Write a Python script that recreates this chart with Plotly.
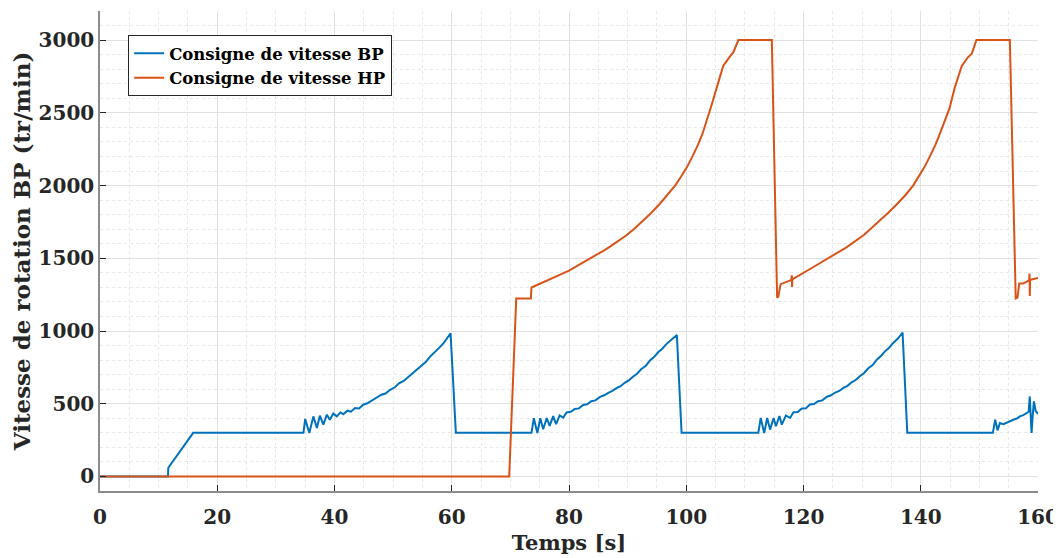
import plotly.graph_objects as go

# Consigne de vitesse BP (temps en s, vitesse en tr/min)
t_bp = [0, 11.6, 11.65, 15.9, 34.7,
        35.0, 35.7, 36.4, 37.0, 37.5, 38.1, 38.7, 39.2, 39.8, 40.4, 41.0, 41.5, 42.2, 42.8,
        43.5, 44.2, 44.9, 45.6, 46.4, 47.2, 48.0, 48.7, 49.5, 50.3, 51.0, 51.8, 52.6, 53.4,
        54.1, 54.9, 55.6, 56.3, 57.0, 57.8, 58.6, 59.2, 59.8, 60.7,
        73.6, 74.0, 74.6, 75.1, 75.6, 76.2, 76.7, 77.3, 77.8, 78.4, 79.0, 79.6, 80.3, 81.0,
        81.7, 82.4, 83.1, 83.8, 84.5, 85.3, 86.0, 86.7, 87.4, 88.1, 88.8, 89.5, 90.2, 90.9,
        91.6, 92.3, 93.1, 93.8, 94.5, 95.2, 95.9, 96.6, 97.4, 98.4, 99.2,
        112.3, 112.7, 113.3, 113.8, 114.3, 114.9, 115.3, 115.9, 116.3, 117.0, 117.7, 118.3,
        119.0, 119.7, 120.4, 121.1, 121.8, 122.5, 123.2, 124.0, 124.7, 125.4, 126.1, 126.8,
        127.5, 128.2, 128.9, 129.6, 130.3, 131.0, 131.8, 132.5, 133.2, 133.9, 134.6, 135.3,
        136.1, 136.9, 137.7,
        152.3, 152.7, 153.1, 153.5, 154.1, 154.7, 155.2, 155.8, 156.4, 156.9, 157.5, 158.0,
        158.4, 158.6, 158.9, 159.1, 159.3, 159.6, 159.8, 160.0]
v_bp = [0, 0, 60, 300, 300,
        395, 299, 413, 333, 418, 356, 425, 390, 432, 413, 440, 428, 452, 445,
        470, 468, 493, 503, 522, 538, 562, 570, 596, 613, 640, 657, 685, 710,
        733, 764, 788, 824, 848, 882, 916, 946, 984, 300,
        300, 400, 299, 400, 325, 402, 348, 415, 360, 420, 405, 440, 445, 464,
        468, 492, 496, 517, 523, 547, 558, 575, 588, 607, 620, 644, 660, 686,
        706, 737, 761, 797, 821, 854, 878, 910, 938, 973, 300,
        300, 402, 299, 402, 322, 402, 345, 416, 356, 420, 402, 441,
        443, 467, 468, 495, 498, 517, 523, 548, 558, 577, 588, 609,
        623, 647, 663, 689, 710, 742, 766, 803, 828, 860, 885, 918,
        948, 989, 300,
        300, 390, 317, 367, 360, 372, 380, 390, 398, 413, 422, 436,
        445, 550, 299, 420, 516, 450, 436, 431]

# Consigne de vitesse HP
t_hp = [0, 69.8, 71.0, 73.5, 73.6, 76.0, 78.5, 80.0, 82.0, 84.1, 86.0, 87.0, 89.8, 91.2,
        92.7, 94.1, 95.5, 96.8, 98.1, 99.1, 100.1, 101.0, 102.0, 102.8, 103.5, 104.3,
        105.2, 105.8, 106.3, 107.5, 108.0, 108.9, 114.6,
        115.5, 115.7, 116.1, 117.9, 118.0, 118.05, 118.1, 121.7, 124.5, 127.4, 130.3,
        133.1, 134.5, 136.0, 137.4, 138.7, 139.6, 140.6, 141.5, 142.5, 143.3, 144.1,
        144.9, 145.8, 146.4, 147.0, 148.0, 148.7,
        149.5, 155.2, 156.2, 156.5, 156.8, 157.5, 158.0, 158.5, 158.55, 158.6, 158.65,
        158.9, 160.0]
v_hp = [0, 0, 1224, 1224, 1299, 1345, 1388, 1415, 1460, 1509, 1555, 1580, 1658, 1705,
        1760, 1815, 1875, 1935, 2000, 2060, 2125, 2195, 2280, 2360, 2445, 2550,
        2673, 2750, 2822, 2890, 2913, 3000, 3000,
        1228, 1235, 1322, 1350, 1383, 1303, 1355, 1440, 1505, 1577, 1660,
        1760, 1815, 1875, 1935, 2000, 2060, 2125, 2195, 2280, 2360, 2445,
        2530, 2673, 2750, 2822, 2880, 2906,
        3000, 3000, 1224, 1230, 1327, 1327, 1338, 1350, 1395, 1240, 1350,
        1354, 1365]

FONT = "DejaVu Serif"
TXT = "#262626"

fig = go.Figure()
fig.add_trace(go.Scatter(x=t_bp, y=v_bp, mode="lines", name="Consigne de vitesse BP",
                         line=dict(color="#0072BD", width=2)))
fig.add_trace(go.Scatter(x=t_hp, y=v_hp, mode="lines", name="Consigne de vitesse HP",
                         line=dict(color="#D95319", width=2)))

# la page a une marge de 8 px autour de la figure
fig.update_layout(
    width=1053, height=550,
    margin=dict(l=92, r=23, t=3, b=67),
    paper_bgcolor="white", plot_bgcolor="white",
    font=dict(family=FONT, color=TXT, weight="bold"),
    legend=dict(x=0.03, y=0.95, xanchor="left", yanchor="top",
                bgcolor="white", bordercolor=TXT, borderwidth=1,
                font=dict(size=16.5, family=FONT, color="black", weight="bold"),
                itemwidth=30, tracegroupgap=0),
    showlegend=True,
)

axis_common = dict(
    showline=True, linecolor="#8c8c8c", linewidth=1.5, mirror=False,
    ticks="inside", ticklen=6, tickcolor=TXT,
    showgrid=True, gridcolor="#e1e1e1", gridwidth=1, zeroline=False,
    tickfont=dict(size=20, family=FONT, color=TXT, weight="bold"),
    ticklabeloverflow="allow",
)

fig.update_xaxes(axis_common, range=[0, 160], dtick=20, ticklabelstandoff=7,
                 minor=dict(dtick=5, showgrid=True, gridcolor="#e8e8e8", griddash="dot"),
                 title=dict(text="Temps [s]", font=dict(size=21, family=FONT, color=TXT, weight="bold"),
                            standoff=8))
fig.update_yaxes(axis_common, range=[-100, 3200], dtick=500,
                 minor=dict(dtick=100, showgrid=True, gridcolor="#e8e8e8", griddash="dot"),
                 title=dict(text="Vitesse de rotation BP (tr/min)",
                            font=dict(size=23, family=FONT, color=TXT, weight="bold"),
                            standoff=6))

fig.write_html("out.html", config={"displayModeBar": False})
